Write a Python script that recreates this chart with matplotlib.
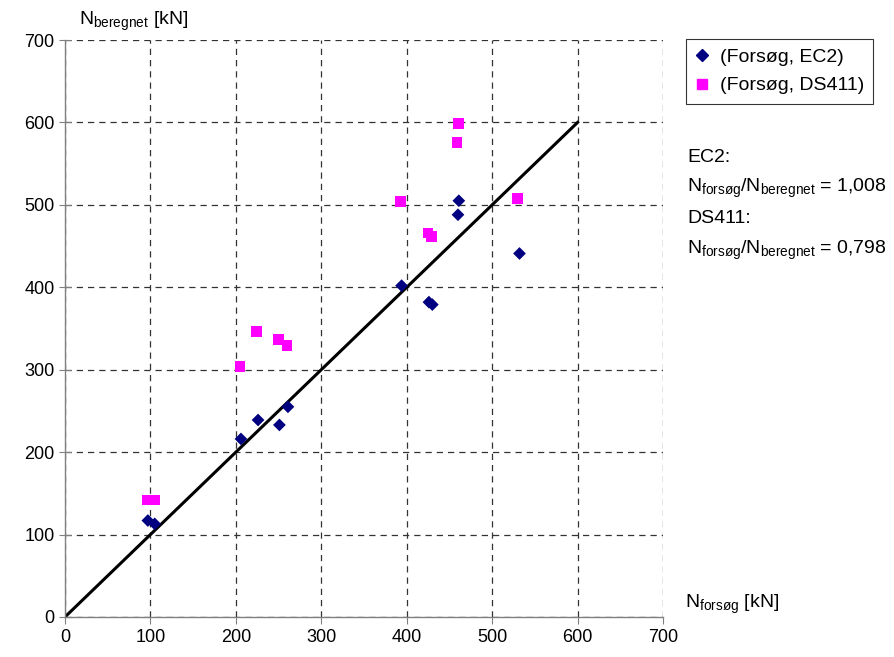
import matplotlib
matplotlib.use("Agg")
import matplotlib.pyplot as plt
from matplotlib.lines import Line2D

plt.rcParams["font.family"] = "Liberation Sans"
plt.rcParams["mathtext.fontset"] = "custom"
plt.rcParams["mathtext.rm"] = "Liberation Sans"
plt.rcParams["mathtext.it"] = "Liberation Sans"
plt.rcParams["font.size"] = 12

# (Forsøg, EC2)
ec2_forsog = [97, 105, 206, 226, 251, 261, 394, 426, 430, 460, 461, 532]
ec2_beregnet = [117, 113, 216, 239, 233, 255, 402, 382, 379, 488, 505, 441]

# (Forsøg, DS411)
ds_forsog = [97, 105, 205, 224, 250, 260, 393, 425, 429, 459, 461, 530]
ds_beregnet = [142, 142, 304, 346, 337, 329, 504, 466, 462, 576, 599, 508]

line_x = [0, 600]
line_y = [0, 600]

fig = plt.figure(figsize=(8.95, 6.57), dpi=100)
ax = fig.add_axes([0.0726, 0.0609, 0.6682, 0.8782])

ax.plot(line_x, line_y, color="black", lw=2.2, zorder=2)
ax.scatter(ec2_forsog, ec2_beregnet, marker="D", s=42, color="#000080",
           edgecolors="none", zorder=3, label="(Forsøg, EC2)")
ax.scatter(ds_forsog, ds_beregnet, marker="s", s=60, color="#ff00ff",
           edgecolors="none", zorder=3, label="(Forsøg, DS411)")

ax.set_xlim(0, 700)
ax.set_ylim(0, 700)
ax.set_xticks(range(0, 800, 100))
ax.set_yticks(range(0, 800, 100))
ax.grid(True, color="#333333", linestyle=(0, (5, 4)), lw=0.9)
for s in ["top", "right"]:
    ax.spines[s].set_visible(False)
for s in ["left", "bottom"]:
    ax.spines[s].set_color("#808080")
    ax.spines[s].set_linewidth(1.0)
ax.tick_params(axis="y", direction="inout", length=8, color="#808080", labelsize=13)
ax.tick_params(axis="x", direction="out", length=5, color="#808080", labelsize=13)

lab = 14
fig.text(0.088, 0.968, r"N$_{\mathrm{beregnet}}$ [kN]", fontsize=lab, va="center")
fig.text(0.765, 0.080, r"N$_{\mathrm{forsøg}}$ [kN]", fontsize=lab, va="center")

handles = [
    Line2D([], [], marker="D", ls="none", color="#000080", markersize=6),
    Line2D([], [], marker="s", ls="none", color="#ff00ff", markersize=7),
]
leg = fig.legend(handles, ["(Forsøg, EC2)", "(Forsøg, DS411)"],
                 loc="upper left", bbox_to_anchor=(0.767, 0.941),
                 borderaxespad=0, frameon=True, fancybox=False, edgecolor="black",
                 handlelength=0.6, handletextpad=0.6, borderpad=0.5,
                 labelspacing=0.55, fontsize=lab)
leg.get_frame().set_linewidth(0.8)

tx = 0.768
fig.text(tx, 0.761, "EC2:", fontsize=lab, va="center")
fig.text(tx, 0.713, r"N$_{\mathrm{forsøg}}$/N$_{\mathrm{beregnet}}$ = 1,008", fontsize=lab, va="center")
fig.text(tx, 0.668, "DS411:", fontsize=lab, va="center")
fig.text(tx, 0.619, r"N$_{\mathrm{forsøg}}$/N$_{\mathrm{beregnet}}$ = 0,798", fontsize=lab, va="center")

fig.savefig("out.png", dpi=100)
